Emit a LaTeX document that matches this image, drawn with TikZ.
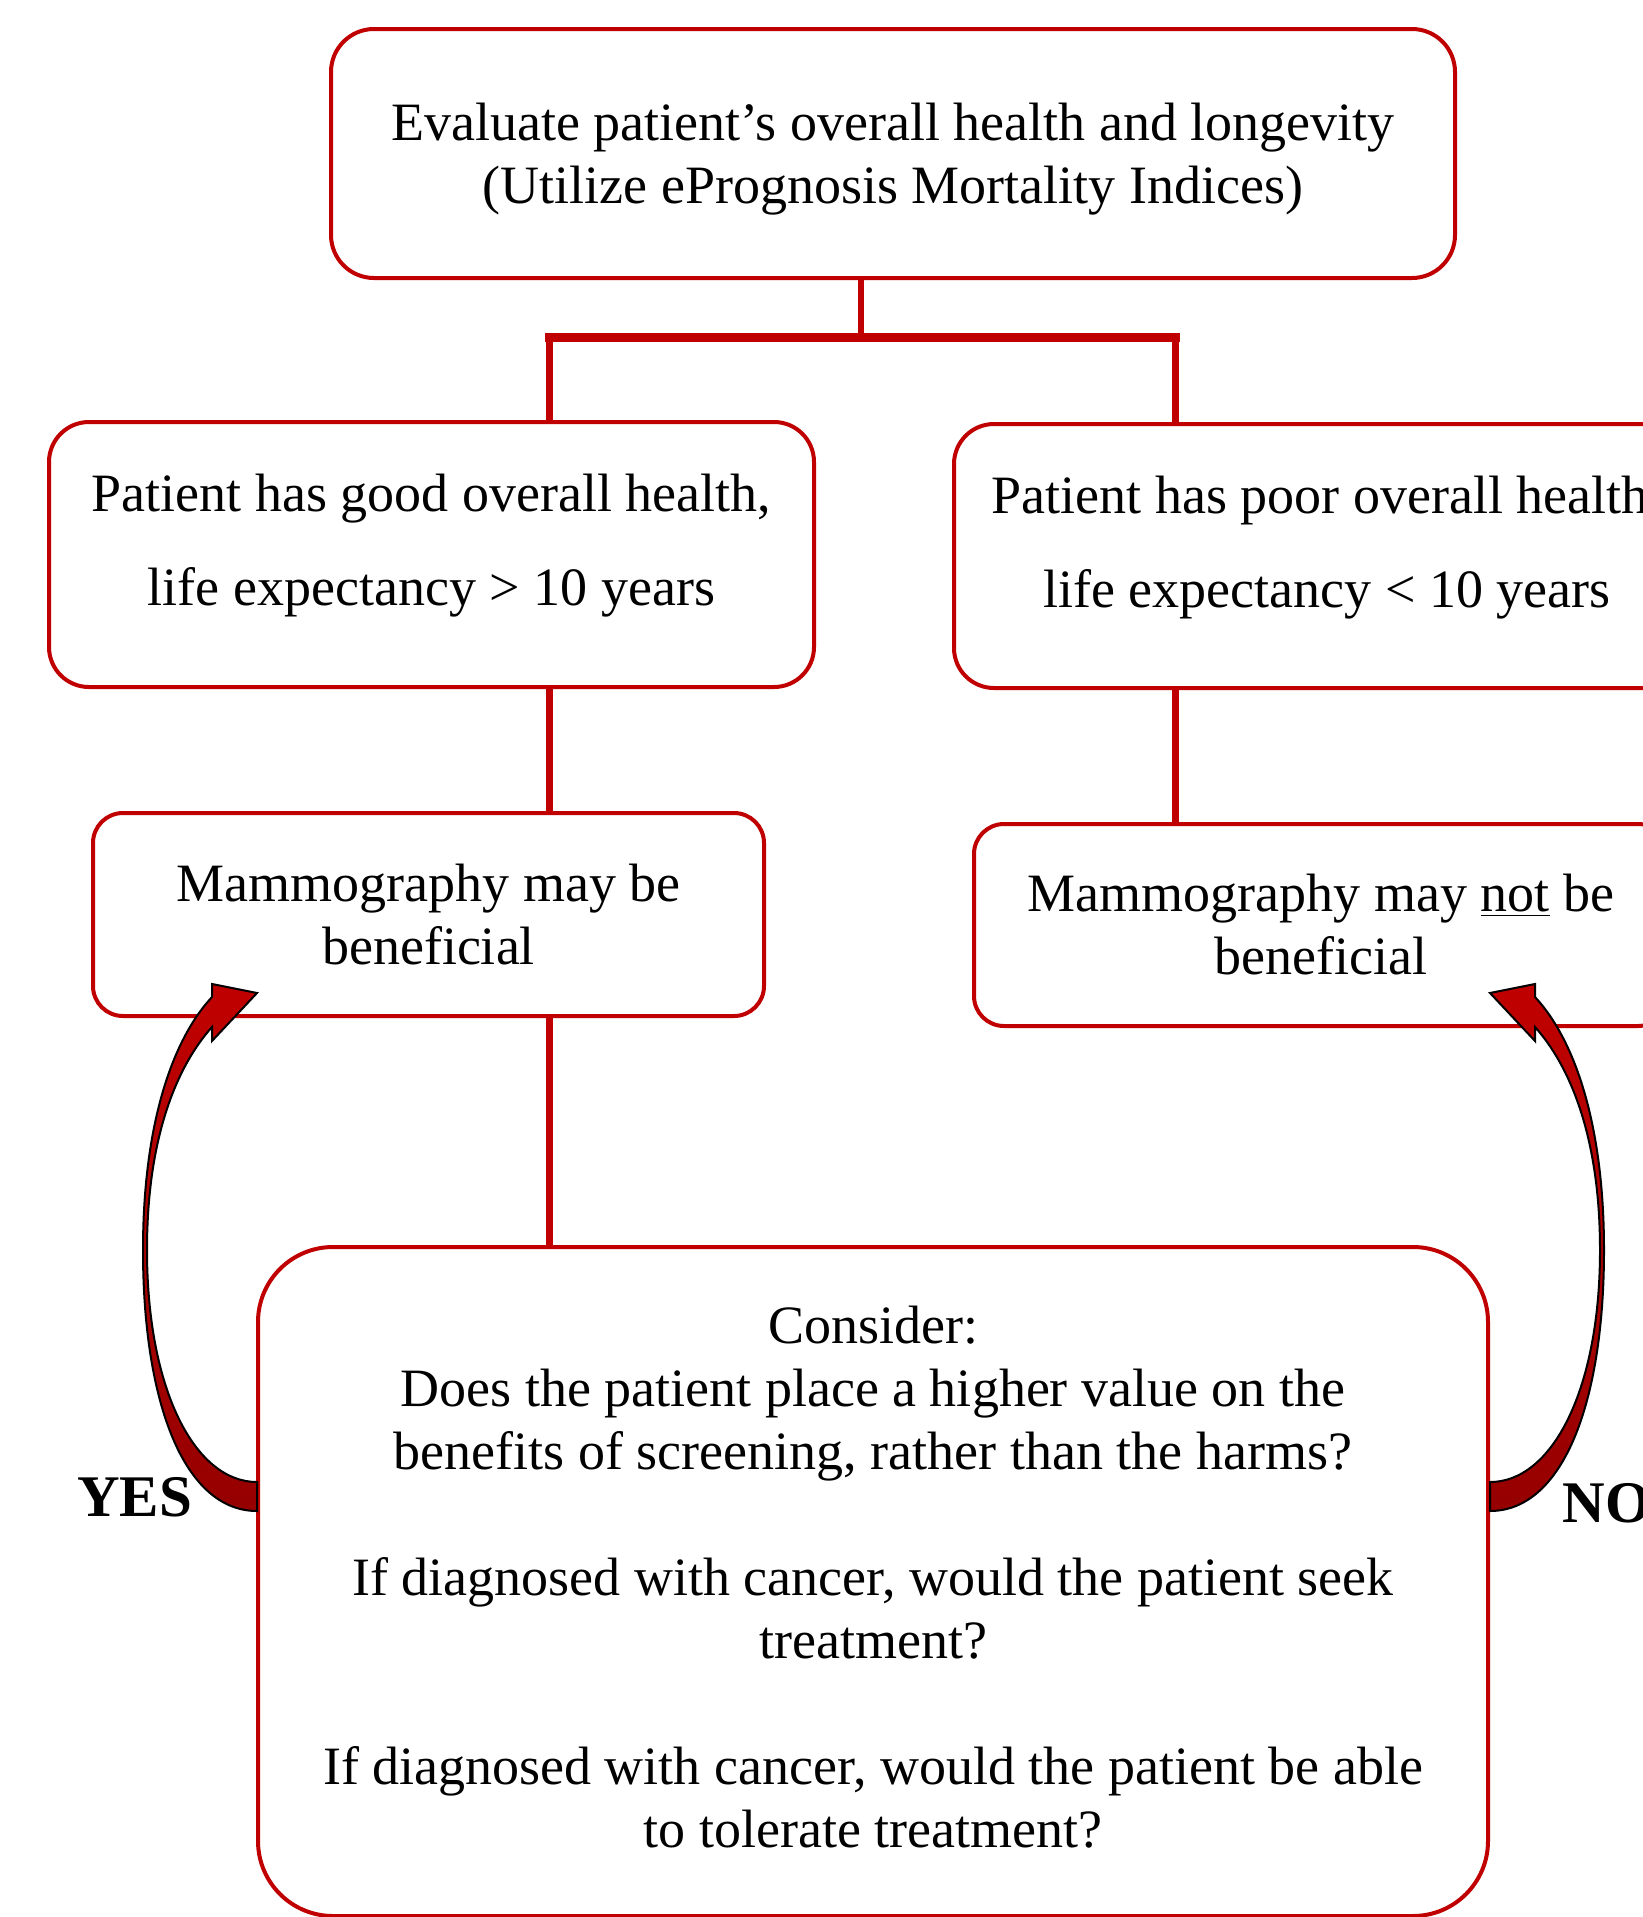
\documentclass[tikz,border=0pt]{standalone}
\usepackage{fontspec}
\setmainfont{Liberation Serif}
\definecolor{boxred}{HTML}{C00000}
\definecolor{arrowtop}{HTML}{C00000}
\definecolor{arrowbot}{HTML}{960000}
\newcommand\mybentarrow{%
  (257,1511) .. controls (185,1511) and (143,1405) .. (143,1250)
  .. controls (143,1125) and (172,1040) .. (212,997)
  -- (212,984) -- (257,993) -- (212,1041) -- (212,1027)
  .. controls (178,1065) and (147,1135) .. (147,1250)
  .. controls (147,1390) and (195,1482) .. (257,1482) -- cycle}
\newcommand\lowerby[1]{\rule{0pt}{#1}}
\newcommand\raiseby[1]{\rule[-#1]{0pt}{#1}}
\begin{document}
\begin{tikzpicture}[x=0.5pt,y=-0.5pt,
  box/.style={draw=boxred, line width=2pt, align=center, inner sep=0pt,
    font=\fontsize{27}{31.5}\selectfont},
  conn/.style={draw=boxred, line width=3.5pt},
  barline/.style={draw=boxred, line width=4.5pt, line cap=rect},
  bigarrow/.style={draw=black, line width=1pt, line join=miter,
    top color=arrowtop, bottom color=arrowbot},
  answer/.style={inner sep=0pt, anchor=base west,
    font=\fontsize{29.5}{34}\selectfont\bfseries}]
\useasboundingbox (0,0) rectangle (1643,1917);
\clip (0,0) rectangle (1643,1917);
\fill[white] (0,0) rectangle (1643,1917);

% boxes
\node[box, minimum width=562pt, minimum height=124.5pt, rounded corners=21.5pt]
  (top) at (893,153.5)
  {\lowerby{24.5pt}Evaluate patient’s overall health and longevity\\(Utilize ePrognosis Mortality Indices)};
\node[box, minimum width=382.5pt, minimum height=132.5pt, rounded corners=20pt,
  font=\fontsize{27}{47}\selectfont]
  (good) at (431.5,554.5)
  {Patient has good overall health,\\life expectancy > 10 years\raiseby{14.5pt}};
\node[box, minimum width=373pt, minimum height=132pt, rounded corners=20pt,
  font=\fontsize{27}{47}\selectfont]
  (poor) at (1327,556)
  {Patient has poor overall health,\\life expectancy < 10 years\raiseby{14.5pt}};
\node[box, minimum width=335.5pt, minimum height=101.5pt, rounded corners=15pt]
  (mamL) at (428.5,914.5)
  {Mammography may be\\beneficial};
\node[box, minimum width=347pt, minimum height=101pt, rounded corners=15pt]
  (mamR) at (1321,925)
  {Mammography may \underline{not} be\\beneficial};
\node[box, minimum width=615pt, minimum height=334.5pt, rounded corners=37.5pt]
  (consider) at (873,1581.5)
  {Consider:\\Does the patient place a higher value on the\\benefits of screening, rather than the harms?\\[31.5pt]
   If diagnosed with cancer, would the patient seek\\treatment?\\[31.5pt]
   If diagnosed with cancer, would the patient be able\\to tolerate treatment?\raiseby{5pt}};

% connectors
\coordinate (j) at (861,337);
\coordinate (bl) at (549,337);
\coordinate (br) at (1175,337);
\draw[conn, line width=3pt] (j |- top.south) -- (j);
\draw[barline] (bl) -- (br);
\draw[conn] (bl) -- (bl |- good.north);
\draw[conn] (br) -- (br |- poor.north);
\draw[conn] (good.south -| bl) -- (mamL.north -| bl);
\draw[conn] (poor.south -| br) -- (mamR.north -| br);
\draw[conn] (mamL.south -| bl) -- (consider.north -| bl);

% curved block arrows
\path[bigarrow] \mybentarrow;
\begin{scope}[shift={(1747,0)}, xscale=-1]
  \path[bigarrow] \mybentarrow;
\end{scope}

% answers
\node[answer] (yes) at (77,1516) {YES};
\node[answer] (no) at (1562,1522) {NO};
\end{tikzpicture}
\end{document}
